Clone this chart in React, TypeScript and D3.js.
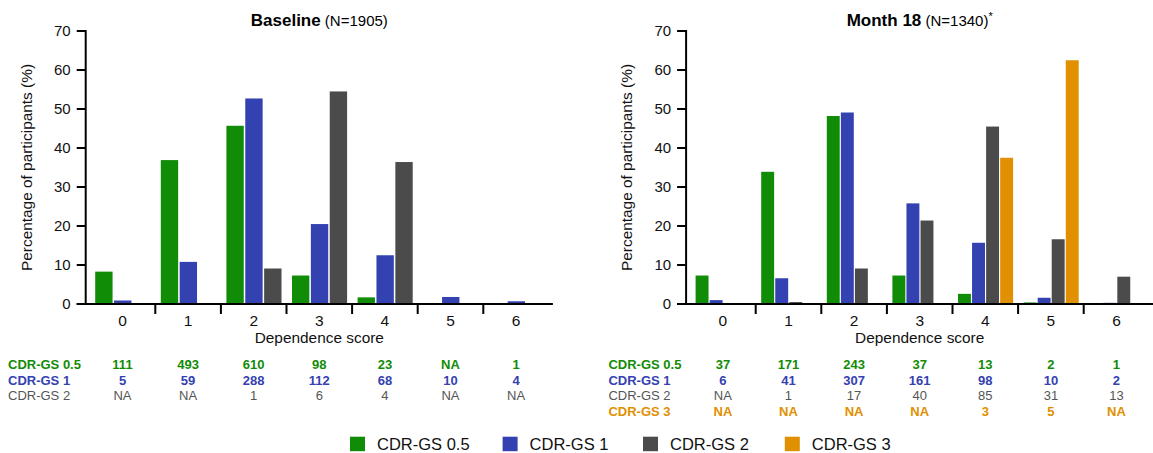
import React, { useEffect, useRef } from 'react';
import * as d3 from 'd3';

// categories and series
const categories = ['0', '1', '2', '3', '4', '5', '6'];
const seriesNames = ['CDR-GS 0.5', 'CDR-GS 1', 'CDR-GS 2', 'CDR-GS 3'];
const seriesColors = ['#118c06', '#3441b1', '#4b4b4b', '#e09000'];
const yTicks = [0, 10, 20, 30, 40, 50, 60, 70];

// Baseline percentages
const baseGS05 = [8.3, 36.9, 45.7, 7.3, 1.7, 0, 0.1];
const baseGS1 = [0.9, 10.8, 52.7, 20.5, 12.5, 1.8, 0.7];
const baseGS2 = [0, 0, 9.1, 54.5, 36.4, 0, 0];

// Month 18 percentages
const m18GS05 = [7.3, 33.9, 48.2, 7.3, 2.6, 0.4, 0.2];
const m18GS1 = [1.0, 6.6, 49.1, 25.8, 15.7, 1.6, 0.3];
const m18GS2 = [0, 0.5, 9.1, 21.4, 45.5, 16.6, 7.0];
const m18GS3 = [0, 0, 0, 0, 37.5, 62.5, 0];

// counts shown under the axes
const baseN05 = ['111', '493', '610', '98', '23', 'NA', '1'];
const baseN1 = ['5', '59', '288', '112', '68', '10', '4'];
const baseN2 = ['NA', 'NA', '1', '6', '4', 'NA', 'NA'];
const m18N05 = ['37', '171', '243', '37', '13', '2', '1'];
const m18N1 = ['6', '41', '307', '161', '98', '10', '2'];
const m18N2 = ['NA', '1', '17', '40', '85', '31', '13'];
const m18N3 = ['NA', 'NA', 'NA', 'NA', '3', '5', 'NA'];

const FONT = '"Liberation Sans", Arial, Helvetica, sans-serif';

type PanelCfg = {
  dx: number;
  title: string;
  sub: string;
  star: boolean;
  values: number[][];
  counts: string[][];
};

function drawPanel(svg: any, cfg: PanelCfg) {
  const g = svg.append('g').attr('transform', `translate(${cfg.dx},0)`);
  const axisX = 85.7;
  const bw = 65.6;
  const bandStart = axisX + 4;
  const bandEnd = bandStart + categories.length * bw;
  const nSeries = cfg.values.length;

  const x0 = d3.scaleBand().domain(categories).range([bandStart, bandEnd]);
  const x1 = d3.scaleBand()
    .domain(d3.range(nSeries).map(String))
    .range([5.5, bw - 5])
    .paddingInner(0.08);
  const y = d3.scaleLinear().domain([0, 70]).range([304, 31]);

  // bars
  cfg.values.forEach((vals, si) => {
    g.append('g')
      .selectAll('rect')
      .data(vals)
      .join('rect')
      .attr('x', (d, i) => x0(categories[i]) + x1(String(si)))
      .attr('y', d => y(d))
      .attr('width', x1.bandwidth())
      .attr('height', d => y(0) - y(d))
      .attr('fill', seriesColors[si]);
  });

  // y axis
  g.append('line')
    .attr('x1', axisX).attr('x2', axisX)
    .attr('y1', y(70) - 1).attr('y2', y(0) + 1)
    .attr('stroke', '#000').attr('stroke-width', 2);
  yTicks.forEach(t => {
    g.append('line')
      .attr('x1', axisX - 9).attr('x2', axisX)
      .attr('y1', y(t)).attr('y2', y(t))
      .attr('stroke', '#000').attr('stroke-width', 2);
    g.append('text')
      .attr('x', axisX - 15)
      .attr('y', y(t) + 5.3)
      .attr('text-anchor', 'end')
      .style('font-size', '15px')
      .attr('fill', '#111')
      .text(t);
  });

  // x axis
  g.append('line')
    .attr('x1', axisX - 9).attr('x2', bandEnd + 4)
    .attr('y1', y(0)).attr('y2', y(0))
    .attr('stroke', '#000').attr('stroke-width', 2);
  categories.slice(1).forEach(c => {
    g.append('line')
      .attr('x1', x0(c)).attr('x2', x0(c))
      .attr('y1', y(0)).attr('y2', y(0) + 10)
      .attr('stroke', '#000').attr('stroke-width', 2);
  });
  categories.forEach(c => {
    g.append('text')
      .attr('x', x0(c) + bw / 2)
      .attr('y', 325.7)
      .attr('text-anchor', 'middle')
      .style('font-size', '15.5px')
      .attr('fill', '#111')
      .text(c);
  });

  const midX = (bandStart + bandEnd) / 2;
  g.append('text')
    .attr('x', midX)
    .attr('y', 342.5)
    .attr('text-anchor', 'middle')
    .style('font-size', '15.4px')
    .attr('fill', '#111')
    .text('Dependence score');

  g.append('text')
    .attr('transform', `translate(31.5, ${(y(0) + y(70)) / 2}) rotate(-90)`)
    .attr('text-anchor', 'middle')
    .style('font-size', '15.4px')
    .attr('fill', '#111')
    .text('Percentage of participants (%)');

  // title
  const title = g.append('text')
    .attr('x', midX)
    .attr('y', 25.5)
    .attr('text-anchor', 'middle')
    .attr('fill', '#000');
  title.append('tspan').style('font-weight', 'bold').style('font-size', '17px').text(cfg.title);
  title.append('tspan').style('font-size', '15px').text(' ' + cfg.sub);
  if (cfg.star) {
    title.append('tspan').style('font-size', '11px').attr('dy', -6).text('*');
  }

  // count table
  const rowY = [368.8, 384.5, 400, 415.6];
  cfg.counts.forEach((row, si) => {
    const bold = si !== 2;
    const color = si === 2 ? '#555' : seriesColors[si];
    g.append('text')
      .attr('x', 8)
      .attr('y', rowY[si])
      .style('font-size', '13px')
      .style('font-weight', bold ? 'bold' : 'normal')
      .attr('fill', color)
      .text(seriesNames[si]);
    g.append('g')
      .selectAll('text')
      .data(row)
      .join('text')
      .attr('x', (d, i) => x0(categories[i]) + bw / 2)
      .attr('y', rowY[si])
      .attr('text-anchor', 'middle')
      .style('font-size', '13px')
      .style('font-weight', bold ? 'bold' : 'normal')
      .attr('fill', color)
      .text(d => d);
  });
}

const App = () => {
  const svgRef = useRef<SVGSVGElement>(null);

  useEffect(() => {
    const svg = d3.select(svgRef.current);
    svg.selectAll('*').remove();
    svg.style('font-family', FONT);

    drawPanel(svg, {
      dx: 0,
      title: 'Baseline',
      sub: '(N=1905)',
      star: false,
      values: [baseGS05, baseGS1, baseGS2],
      counts: [baseN05, baseN1, baseN2],
    });
    drawPanel(svg, {
      dx: 600.4,
      title: 'Month 18',
      sub: '(N=1340)',
      star: true,
      values: [m18GS05, m18GS1, m18GS2, m18GS3],
      counts: [m18N05, m18N1, m18N2, m18N3],
    });

    // legend
    const legendX = [350, 502.6, 643, 784.8];
    const legend = svg.append('g');
    seriesNames.forEach((name, i) => {
      legend.append('rect')
        .attr('x', legendX[i]).attr('y', 436.7)
        .attr('width', 15).attr('height', 14.5)
        .attr('fill', seriesColors[i]);
      legend.append('text')
        .attr('x', legendX[i] + 27)
        .attr('y', 450)
        .style('font-size', '16.5px')
        .attr('fill', '#111')
        .text(name);
    });
  }, []);

  return (
    <svg
      ref={svgRef}
      width={1153}
      height={453}
      style={{ position: 'absolute', left: 0, top: 0, background: '#fff' }}
    />
  );
};

export default App;
